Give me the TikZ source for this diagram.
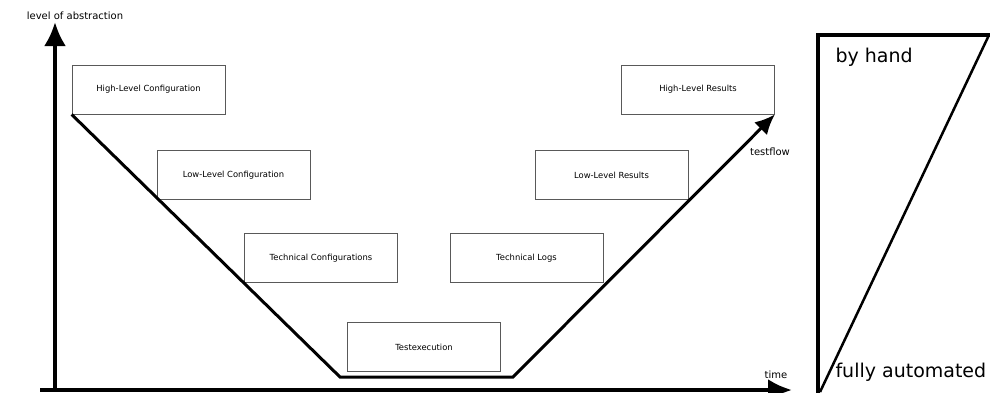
\documentclass[tikz,border=0pt]{standalone}
\usepackage{fontspec}
\setmainfont{DejaVu Sans}
\usetikzlibrary{arrows.meta}

\begin{document}
\begin{tikzpicture}[x=1pt, y=-1pt, >=Latex,
    stagebox/.style={draw=black!65, line width=0.8pt, fill=white, minimum width=153pt, minimum height=49pt, font=\fontsize{8.4}{10}\selectfont},
    axislabel/.style={font=\fontsize{10}{12}\selectfont},
    bigtext/.style={font=\fontsize{19}{22}\selectfont, anchor=west}]
    \useasboundingbox (0,0) rectangle (990,392);
    % axes
    \coordinate (origin) at (55,390);
    \coordinate (ytop) at (55,22);
    \coordinate (xleft) at (40,390);
    \coordinate (xend) at (792,390);
    \draw[line width=4pt, -{Latex[length=24pt, width=22pt]}] (origin) -- (ytop);
    \draw[line width=4pt, -{Latex[length=24pt, width=22pt]}] (xleft) -- (xend);
    \node[axislabel] (ylab) at (75,16) {level of abstraction};
    \node[axislabel] (xlab) at (776,375) {time};
    % stages
    \node[stagebox] (hlc) at (148.5,89.5) {High-Level Configuration};
    \node[stagebox] (llc) at (233.5,175) {Low-Level Configuration};
    \node[stagebox] (tc) at (321,258) {Technical Configurations};
    \node[stagebox] (te) at (424,347) {Testexecution};
    \node[stagebox] (tl) at (526.5,258) {Technical Logs};
    \node[stagebox] (llr) at (611.5,175) {Low-Level Results};
    \node[stagebox] (hlr) at (698,89.5) {High-Level Results};
    % testflow
    \coordinate (vleft) at (340,377);
    \coordinate (vright) at (513,377);
    \draw[line width=3pt, -{Latex[length=20pt, width=18pt]}] (hlc.south west) -- (vleft) -- (vright) -- (hlr.south east);
    \node[axislabel] (flowlab) at (770,152) {testflow};
    % by hand / automated
    \draw[line width=4pt] (1005,35) -- (818,35) -- (818,400);
    \coordinate (diagtop) at (989,35);
    \coordinate (diagbot) at (820,392);
    \draw[line width=2.5pt] (diagbot) -- (diagtop);
    \node[bigtext] (hand) at (832,57) {by hand};
    \node[bigtext] (auto) at (832,372) {fully automated};
\end{tikzpicture}
\end{document}
